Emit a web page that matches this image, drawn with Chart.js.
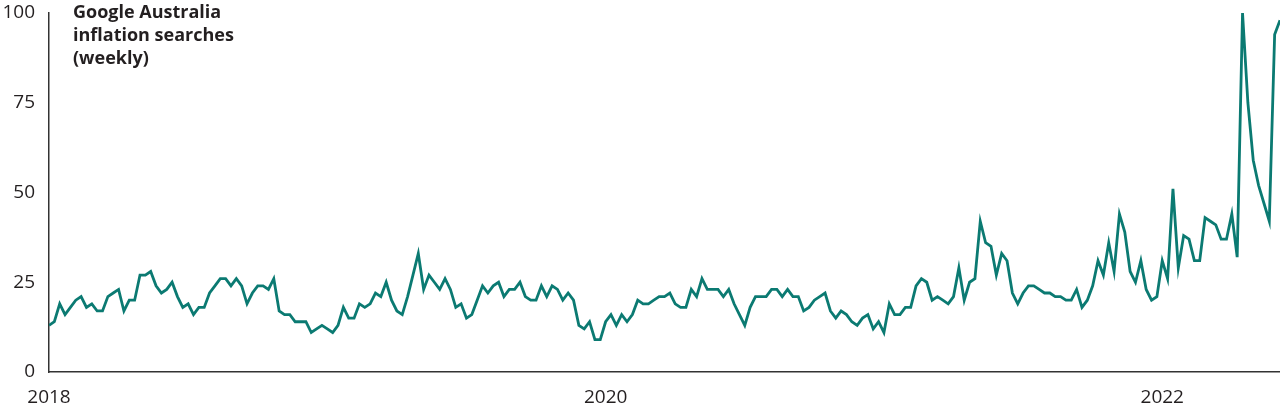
<!DOCTYPE html>
<html lang="en">
<head>
    <meta charset="UTF-8">
    <title>Google Australia inflation searches (weekly)</title>
    <script src="https://cdn.jsdelivr.net/npm/chart.js"></script>
    <style>
        html, body { margin: 0; padding: 0; background: #fff; }
        #wrap { position: relative; width: 1280px; height: 411px; }
        #title {
            position: absolute; left: 73px; top: 0px;
            font: bold 18px "Open Sans", sans-serif; line-height: 23px; color: #231f20;
        }
    </style>
</head>
<body>
    <div id="wrap">
        <canvas id="lineChart" width="1280" height="411"></canvas>
        <div id="title">Google Australia<br>inflation searches<br>(weekly)</div>
    </div>

    <script>
        // weekly index values, first week of 2018 onwards
        var searches = [
            13, 14, 19, 16, 18, 20, 21, 18, 19, 17,
            17, 21, 22, 23, 17, 20, 20, 27, 27, 28,
            24, 22, 23, 25, 21, 18, 19, 16, 18, 18,
            22, 24, 26, 26, 24, 26, 24, 19, 22, 24,
            24, 23, 26, 17, 16, 16, 14, 14, 14, 11,
            12, 13, 12, 11, 13, 18, 15, 15, 19, 18,
            19, 22, 21, 25, 20, 17, 16, 21, 27, 33,
            23, 27, 25, 23, 26, 23, 18, 19, 15, 16,
            20, 24, 22, 24, 25, 21, 23, 23, 25, 21,
            20, 20, 24, 21, 24, 23, 20, 22, 20, 13,
            12, 14, 9, 9, 14, 16, 13, 16, 14, 16,
            20, 19, 19, 20, 21, 21, 22, 19, 18, 18,
            23, 21, 26, 23, 23, 23, 21, 23, 19, 16,
            13, 18, 21, 21, 21, 23, 23, 21, 23, 21,
            21, 17, 18, 20, 21, 22, 17, 15, 17, 16,
            14, 13, 15, 16, 12, 14, 11, 19, 16, 16,
            18, 18, 24, 26, 25, 20, 21, 20, 19, 21,
            29, 20, 25, 26, 42, 36, 35, 27, 33, 31,
            22, 19, 22, 24, 24, 23, 22, 22, 21, 21,
            20, 20, 23, 18, 20, 24, 31, 27, 36, 28,
            44, 39, 28, 25, 31, 23, 20, 21, 31, 26,
            51, 29, 38, 37, 31, 31, 43, 42, 41, 37,
            37, 44, 32, 100, 75, 59, 52, 47, 42, 94,
            98
        ];
        var yearLabels = ['2018', '2020', '2022'];
        var yTicks = [0, 25, 50, 75, 100];
        var weeksPerYear = 52;

        // week index where each year label sits
        var yearWeeks = yearLabels.map(function (y) {
            return (parseInt(y, 10) - 2018) * weeksPerYear;
        });

        var tickFont = { family: 'Open Sans', size: 19 };
        var inkColor = '#231f20';

        var ctx = document.getElementById('lineChart').getContext('2d');
        var lineChart = new Chart(ctx, {
            type: 'line',
            data: {
                datasets: [{
                    data: searches.map(function (v, i) { return { x: i, y: v }; }),
                    borderColor: '#0b7a72',
                    borderWidth: 2.8,
                    pointRadius: 0,
                    tension: 0,
                    fill: false
                }]
            },
            options: {
                responsive: false,
                animation: false,
                layout: { padding: { top: 13, left: 0, right: 0, bottom: 0 } },
                plugins: {
                    legend: { display: false },
                    tooltip: { enabled: false }
                },
                scales: {
                    x: {
                        type: 'linear',
                        min: 0,
                        max: searches.length - 1,
                        grid: { display: false, drawTicks: false },
                        border: { color: '#333', width: 1.5 },
                        afterBuildTicks: function (s) {
                            s.ticks = yearWeeks.map(function (w) { return { value: w }; });
                        },
                        ticks: {
                            autoSkip: false,
                            maxRotation: 0,
                            padding: 14,
                            color: inkColor,
                            font: tickFont,
                            callback: function (v, i) { return yearLabels[i]; }
                        },
                        afterFit: function (s) {
                            s.height = 39;
                            s.paddingLeft = 0;
                            s.paddingRight = 0;
                        }
                    },
                    y: {
                        min: 0,
                        max: 100,
                        grid: { display: false, drawTicks: false },
                        border: { color: '#333', width: 1.5 },
                        afterBuildTicks: function (s) {
                            s.ticks = yTicks.map(function (v) { return { value: v }; });
                        },
                        ticks: {
                            padding: 14,
                            color: inkColor,
                            font: tickFont
                        },
                        afterFit: function (s) {
                            s.width = 49;
                            s.paddingTop = 0;
                            s.paddingBottom = 0;
                        }
                    }
                }
            }
        });
    </script>
</body>
</html>
